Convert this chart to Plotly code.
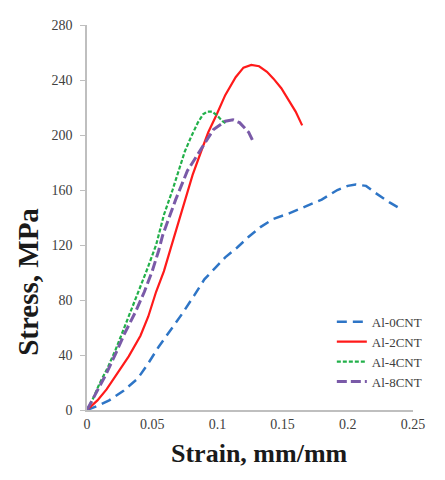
import plotly.graph_objects as go

# strain (mm/mm) and stress (MPa)
strain_0cnt = [0, 0.008, 0.017, 0.028, 0.039, 0.047, 0.055, 0.064, 0.073, 0.082, 0.09, 0.098, 0.106,
               0.115, 0.124, 0.133, 0.143, 0.155, 0.168, 0.18, 0.192, 0.2, 0.206, 0.214, 0.221, 0.232, 0.241]
stress_0cnt = [0, 3, 7, 14, 23, 34, 46, 58, 70, 83, 95, 103, 111, 118, 126, 133, 139, 143, 148, 153, 160,
               163, 164, 163, 158, 151, 146]

strain_2cnt = [0, 0.008, 0.015, 0.023, 0.032, 0.041, 0.047, 0.053, 0.059, 0.064, 0.07, 0.075, 0.081,
               0.0875, 0.093, 0.099, 0.106, 0.114, 0.12, 0.126, 0.132, 0.138, 0.143, 0.149, 0.155, 0.16, 0.165]
stress_2cnt = [0, 7, 15, 26, 39, 54, 68, 86, 101, 117, 136, 153, 171, 188, 202, 214, 229, 242, 249, 251,
               250, 246, 241, 234, 225, 217, 207]

strain_4cnt = [0, 0.005, 0.0095, 0.016, 0.022, 0.03, 0.039, 0.046, 0.053, 0.059, 0.0656, 0.07, 0.075,
               0.08, 0.085, 0.089, 0.092, 0.096, 0.1, 0.104, 0.107]
stress_4cnt = [0, 9, 19, 31, 44, 63, 84, 102, 120, 142, 160, 174, 188, 199, 209, 215, 217, 217, 214, 210, 208]

strain_8cnt = [0, 0.007, 0.0146, 0.022, 0.029, 0.037, 0.044, 0.05, 0.055, 0.058, 0.063, 0.068, 0.077,
               0.0875, 0.097, 0.106, 0.112, 0.117, 0.121, 0.124, 0.128]
stress_8cnt = [0, 12, 26, 41, 56, 71, 86, 101, 116, 127, 140, 153, 174, 190, 204, 210, 211, 209, 205, 202, 194]

x_ticks = [0, 0.05, 0.1, 0.15, 0.2, 0.25]
x_tick_text = ['0', '0.05', '0.1', '0.15', '0.2', '0.25']
y_ticks = [0, 40, 80, 120, 160, 200, 240, 280]

fig = go.Figure()
fig.add_trace(go.Scatter(x=strain_0cnt, y=stress_0cnt, mode='lines', name='Al-0CNT',
                         line=dict(color='#2e75c6', width=2.5, dash='10px,6px')))
fig.add_trace(go.Scatter(x=strain_2cnt, y=stress_2cnt, mode='lines', name='Al-2CNT',
                         line=dict(color='#ff1a1a', width=2.2)))
fig.add_trace(go.Scatter(x=strain_4cnt, y=stress_4cnt, mode='lines', name='Al-4CNT',
                         line=dict(color='#22b04a', width=2.2, dash='4px,2px')))
fig.add_trace(go.Scatter(x=strain_8cnt, y=stress_8cnt, mode='lines', name='Al-8CNT',
                         line=dict(color='#7a5aa8', width=3, dash='10px,4px')))

# page body adds an 8px offset, so the figure is kept 16px smaller than the window
fig.update_layout(
    width=429, height=464,
    margin=dict(l=79, r=13, t=10, b=62),
    paper_bgcolor='white', plot_bgcolor='white',
    font=dict(family='Liberation Serif', color='#404040'),
    legend=dict(x=0.751, y=0.268, xanchor='left', yanchor='top', bgcolor='rgba(0,0,0,0)',
                font=dict(size=13, color='#404040'), tracegroupgap=0, itemwidth=30),
    showlegend=True,
    annotations=[
        dict(text='<b>Stress, MPa</b>', x=-0.181, y=0.333, xref='paper', yref='paper', showarrow=False,
             textangle=-90, xanchor='center', yanchor='middle', font=dict(size=29, color='#1a1a1a')),
        dict(text='<b>Strain, mm/mm</b>', x=0.528, y=-0.112, xref='paper', yref='paper', showarrow=False,
             xanchor='center', yanchor='middle', font=dict(size=26, color='#1a1a1a')),
    ],
)

fig.update_xaxes(range=[0, 0.25], tickvals=x_ticks, ticktext=x_tick_text, showgrid=False, zeroline=False,
                 showline=True, linecolor='#bfbfbf', linewidth=1.5, ticks='',
                 tickfont=dict(size=14, color='#404040'))
fig.update_yaxes(range=[0, 280], tickvals=y_ticks, showgrid=False, zeroline=False,
                 showline=True, linecolor='#bfbfbf', linewidth=1.5, ticks='outside', ticklen=5,
                 tickcolor='#bfbfbf', ticklabelstandoff=5, tickfont=dict(size=14, color='#404040'))

fig.write_html("out.html")
